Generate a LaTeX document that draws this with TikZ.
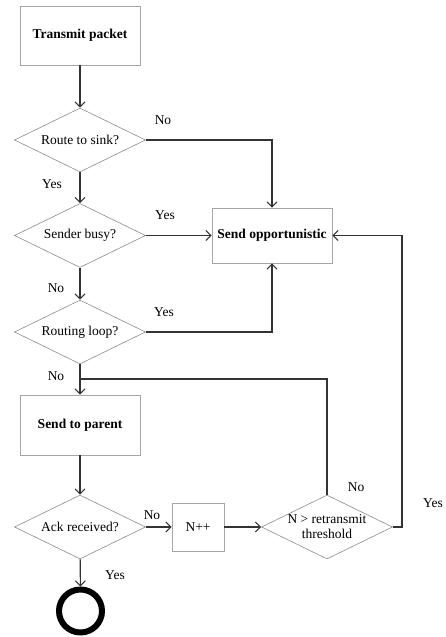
\documentclass[tikz,border=0pt]{standalone}
\usepackage{fontspec}
\setmainfont{Liberation Serif}
\usetikzlibrary{shapes.geometric,arrows.meta}
\tikzset{
  process/.style={draw=black!35, line width=0.8pt, minimum width=120pt, minimum height=59pt, font=\fontsize{13.5}{15}\selectfont\bfseries},
  counter/.style={draw=black!35, line width=0.8pt, minimum width=52pt, minimum height=48pt},
  decision/.style={diamond, draw=black!45, line width=0.6pt, aspect=2, inner sep=0pt, minimum width=131pt, minimum height=64pt, align=center},
  terminal/.style={circle, draw=black, line width=6pt, inner sep=0pt, minimum size=43pt},
  flow/.style={draw=black!80, line width=1.1pt, -{Straight Barb[length=5pt,width=10pt]}},
  link/.style={draw=black!80, line width=1.1pt},
}
\begin{document}
\begin{tikzpicture}[x=1pt, y=-1pt, font=\fontsize{13.5}{15}\selectfont]
\useasboundingbox (0,0) rectangle (445,637);

\node[process] (transmit) at (80,35.5) {Transmit packet};
\node[decision] (route) at (80,140) {Route to sink?};
\node[decision] (busy) at (80,235.5) {Sender busy?};
\node[decision] (loop) at (80,332) {Routing loop?};
\node[process, minimum height=60pt] (parent) at (80,425) {Send to parent};
\node[decision] (ack) at (80,527) {Ack received?};
\node[terminal] (done) at (80.5,611) {};
\node[process, minimum height=55pt] (opp) at (272,235.5) {Send opportunistic};
\node[counter] (count) at (198,527) {N++};
\node[decision] (thresh) at (327,527) {N > retransmit\\threshold};

\coordinate (join) at (80,379);
\coordinate (turn) at (402,527);

\draw[flow] (transmit) -- (route);
\draw[flow] (route) -- (busy);
\draw[flow] (busy) -- (loop);
\draw[flow] (loop) -- (parent);
\draw[flow] (parent) -- (ack);
\draw[flow] (ack) -- (done);
\draw[flow] (route.east) -| (opp.north);
\draw[flow] (busy.east) -- (opp.west);
\draw[flow] (loop.east) -| (opp.south);
\draw[flow] (ack.east) -- (count.west);
\draw[flow] (count.east) -- (thresh.west);
\draw[link] (thresh.north) |- (join);
\draw[flow] (thresh.east) -- (turn) |- (opp.east);

\node (routeno) at (163,120) {No};
\node (routeyes) at (52,184) {Yes};
\node (busyyes) at (165,215) {Yes};
\node (busyno) at (56,288) {No};
\node (loopyes) at (164,312) {Yes};
\node (loopno) at (56,376) {No};
\node (ackno) at (152,515) {No};
\node (ackyes) at (115,575) {Yes};
\node (threshno) at (356,487) {No};
\node (threshyes) at (433,503) {Yes};
\end{tikzpicture}
\end{document}
